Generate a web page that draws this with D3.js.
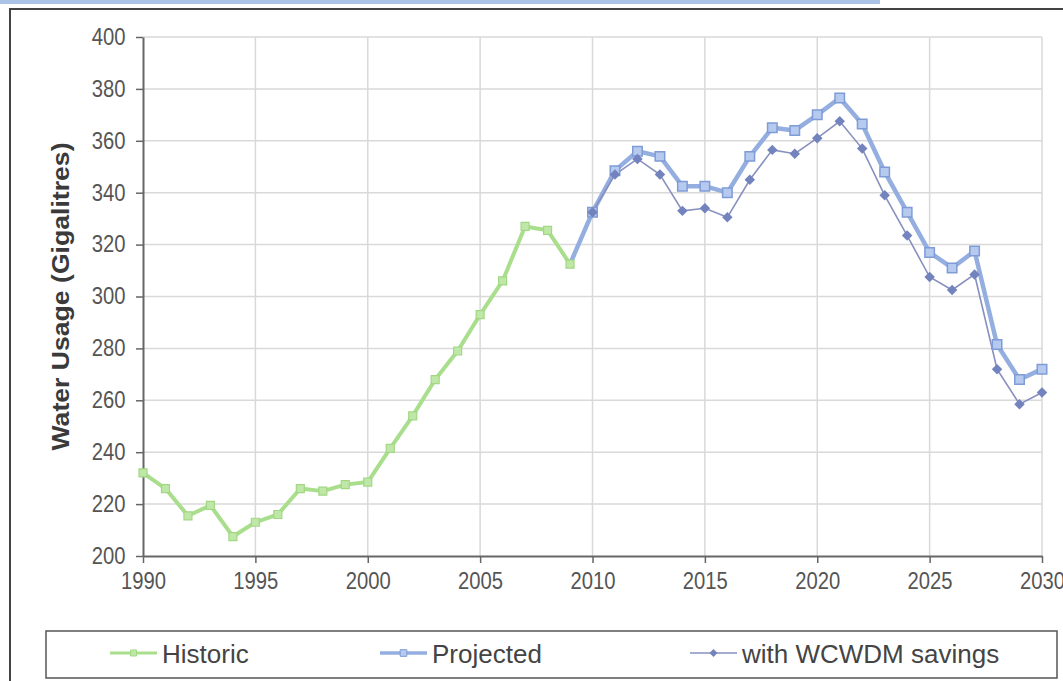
<!DOCTYPE html>
<html>
<head>
<meta charset="utf-8">
<script src="https://cdn.jsdelivr.net/npm/d3@7"></script>
<style>
  html, body { margin: 0; padding: 0; background: #fff; }
  svg { display: block; font-family: "Liberation Sans", Arial, sans-serif; }
</style>
</head>
<body>
<div id="chart"></div>
<script>
let width = 1063,
    height = 681,
    margin = ({ top: 37, right: 21, bottom: 125, left: 143 });

// data
const histYears = [1990,1991,1992,1993,1994,1995,1996,1997,1998,1999,2000,2001,2002,2003,2004,2005,2006,2007,2008,2009];
const historic = [232,226,215.5,219.5,207.5,213,216,226,225,227.5,228.5,241.5,254,268,279,293,306,327,325.5,312.5];

const projYears = [2009,2010,2011,2012,2013,2014,2015,2016,2017,2018,2019,2020,2021,2022,2023,2024,2025,2026,2027,2028,2029,2030];
const projected = [312.5,332.5,348.5,356,354,342.5,342.5,340,354,365,364,370,376.5,366.5,348,332.5,317,311,317.5,281.5,268,272];

const saveYears = [2010,2011,2012,2013,2014,2015,2016,2017,2018,2019,2020,2021,2022,2023,2024,2025,2026,2027,2028,2029,2030];
const savings = [332.5,347,353,347,333,334,330.5,345,356.5,355,361,367.5,357,339,323.5,307.5,302.5,308.5,272,258.5,263];

const xTicks = [1990,1995,2000,2005,2010,2015,2020,2025,2030];
const yTicks = [200,220,240,260,280,300,320,340,360,380,400];
const legendLabels = ["Historic", "Projected", "with WCWDM savings"];

const svg = d3.select("#chart")
  .append("svg")
  .attr("width", width)
  .attr("height", height);

// scanned page frame
svg.append("rect").attr("x", 0).attr("y", 0).attr("width", 880).attr("height", 4).attr("fill", "#a9c2e6");
svg.append("path")
  .attr("d", `M10,${height} V9 H${width}`)
  .attr("fill", "none")
  .attr("stroke", "#444")
  .attr("stroke-width", 2);

let x = d3.scaleLinear()
  .domain([1990, 2030])
  .range([margin.left, width - margin.right]);

let y = d3.scaleLinear()
  .domain([200, 400])
  .range([height - margin.bottom, margin.top]);

// grid
svg.append("g")
  .selectAll("line.h")
  .data(yTicks.slice(1))
  .join("line")
  .attr("x1", x(1990)).attr("x2", x(2030))
  .attr("y1", d => y(d)).attr("y2", d => y(d))
  .attr("stroke", "#d9d9d9").attr("stroke-width", 1.5);

svg.append("g")
  .selectAll("line.v")
  .data(xTicks.slice(1))
  .join("line")
  .attr("x1", d => x(d)).attr("x2", d => x(d))
  .attr("y1", y(200)).attr("y2", y(400))
  .attr("stroke", "#d9d9d9").attr("stroke-width", 1.5);

// axes
let yAxis = svg.append("g")
  .attr("transform", `translate(${margin.left},0)`)
  .call(d3.axisLeft(y).tickValues(yTicks).tickSize(7).tickPadding(13).tickSizeOuter(0));

let xAxis = svg.append("g")
  .attr("transform", `translate(0,${height - margin.bottom})`)
  .call(d3.axisBottom(x).tickValues(xTicks).tickFormat(d3.format("d")).tickSize(7).tickPadding(10).tickSizeOuter(0));

for (let g of [xAxis, yAxis]) {
  g.select(".domain").attr("stroke", "#666").attr("stroke-width", 2);
  g.selectAll(".tick line").attr("stroke", "#666").attr("stroke-width", 1.5);
  g.selectAll(".tick text")
    .attr("fill", "#555")
    .attr("transform", "scale(0.88,1)")
    .style("font-size", "23px")
    .style("font-family", "'Liberation Sans', Arial, sans-serif");
}

svg.append("text")
  .text("Water Usage (Gigalitres)")
  .attr("transform", `translate(69,${y(300)}) rotate(-90)`)
  .attr("text-anchor", "middle")
  .attr("textLength", 308)
  .attr("lengthAdjust", "spacingAndGlyphs")
  .attr("fill", "#3a3a3a")
  .style("font-size", "23px")
  .style("font-weight", "bold");

let line = d3.line()
  .x(d => x(d[0]))
  .y(d => y(d[1]));

const squareSym = d3.symbol().type(d3.symbolSquare);
const diamondSym = d3.symbol().type(d3.symbolDiamond2);

// projected
let projData = d3.zip(projYears, projected);
svg.append("path")
  .datum(projData)
  .attr("fill", "none")
  .attr("stroke", "#94aee0")
  .attr("stroke-width", 4.5)
  .attr("stroke-linejoin", "round")
  .attr("d", line);

// with WCWDM savings
let saveData = d3.zip(saveYears, savings);
svg.append("path")
  .datum(saveData)
  .attr("fill", "none")
  .attr("stroke", "#8890bf")
  .attr("stroke-width", 1.6)
  .attr("d", line);

svg.append("g")
  .selectAll("path")
  .data(projData.slice(1))
  .join("path")
  .attr("transform", d => `translate(${x(d[0])},${y(d[1])})`)
  .attr("d", squareSym.size(90)())
  .attr("fill", "#b6c9ef")
  .attr("stroke", "#7f9cd6")
  .attr("stroke-width", 1.5);

svg.append("g")
  .selectAll("path")
  .data(saveData)
  .join("path")
  .attr("transform", d => `translate(${x(d[0])},${y(d[1])})`)
  .attr("d", diamondSym.size(70)())
  .attr("fill", "#7383bd");

// historic
let histData = d3.zip(histYears, historic);
svg.append("path")
  .datum(histData)
  .attr("fill", "none")
  .attr("stroke", "#a9de8c")
  .attr("stroke-width", 4)
  .attr("stroke-linejoin", "round")
  .attr("d", line);

svg.append("g")
  .selectAll("path")
  .data(histData)
  .join("path")
  .attr("transform", d => `translate(${x(d[0])},${y(d[1])})`)
  .attr("d", squareSym.size(64)())
  .attr("fill", "#bfe8a8")
  .attr("stroke", "#a2d884")
  .attr("stroke-width", 1.2);

// legend
let legend = svg.append("g");
legend.append("rect")
  .attr("x", 46).attr("y", 631)
  .attr("width", 1011).attr("height", 47)
  .attr("fill", "#fff")
  .attr("stroke", "#555")
  .attr("stroke-width", 1.5);

let legendX = [110, 380, 690];
let legendStyles = [
  { stroke: "#a9de8c", w: 3, sym: squareSym, size: 36, fill: "#bfe8a8", ms: "#a2d884" },
  { stroke: "#94aee0", w: 3.5, sym: squareSym, size: 44, fill: "#b6c9ef", ms: "#7f9cd6" },
  { stroke: "#8890bf", w: 1.6, sym: diamondSym, size: 40, fill: "#7383bd", ms: "none" }
];

legendLabels.forEach((label, i) => {
  let s = legendStyles[i];
  let lx = legendX[i];
  let item = legend.append("g");
  item.append("line")
    .attr("x1", lx).attr("x2", lx + 47)
    .attr("y1", 653).attr("y2", 653)
    .attr("stroke", s.stroke)
    .attr("stroke-width", s.w);
  item.append("path")
    .attr("transform", `translate(${lx + 23.5},653)`)
    .attr("d", s.sym.size(s.size)())
    .attr("fill", s.fill)
    .attr("stroke", s.ms);
  item.append("text")
    .text(label)
    .attr("x", lx + 52)
    .attr("y", 663)
    .attr("fill", "#444")
    .style("font-size", "26px");
});
</script>
</body>
</html>
